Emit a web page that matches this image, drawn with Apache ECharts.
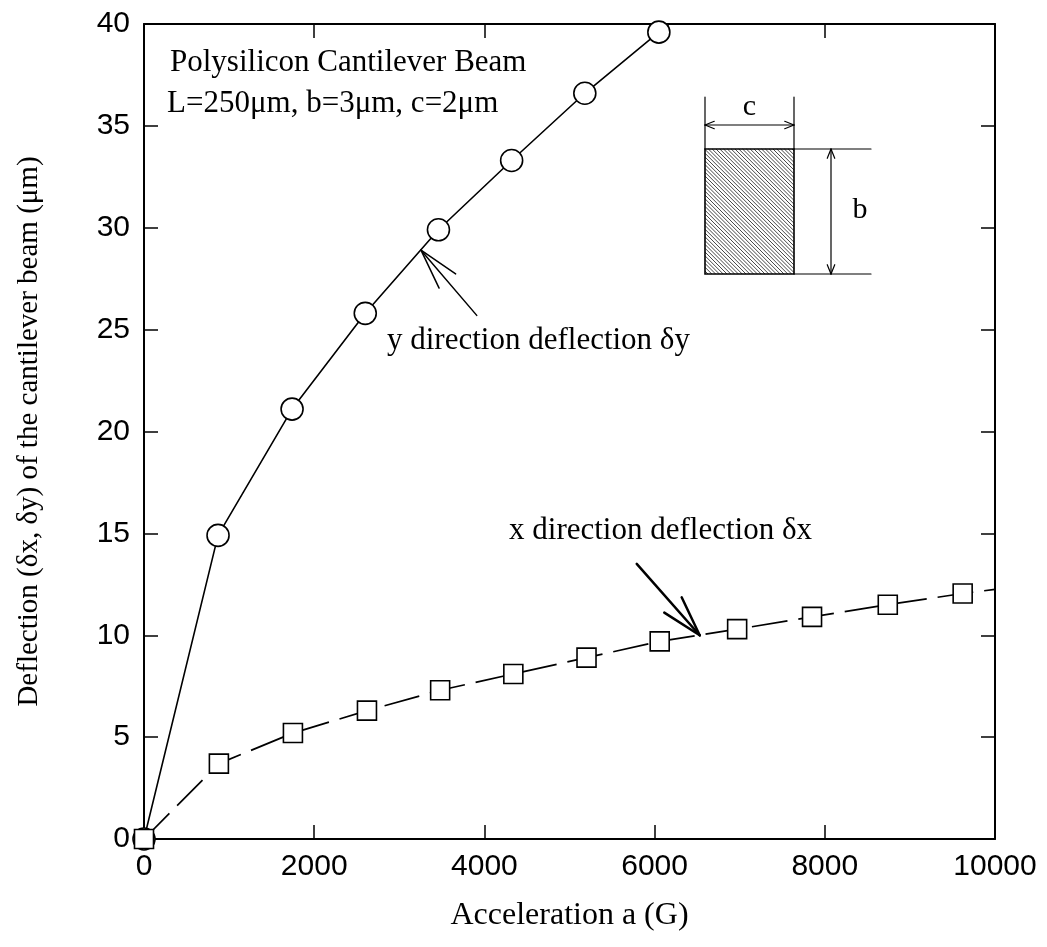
<!DOCTYPE html>
<html>
<head>
<meta charset="utf-8">
<script src="https://cdn.jsdelivr.net/npm/echarts@6/dist/echarts.min.js"></script>
<style>
  html, body { margin: 0; padding: 0; background: #fff; }
  #chart { width: 1047px; height: 947px; }
</style>
</head>
<body>
<div id="chart"></div>
<script>
// Deflection of a polysilicon cantilever beam under acceleration
// y direction (circles, solid line)
const accelY = [0, 870, 1740, 2600, 3460, 4320, 5180, 6050];
const deflY  = [0, 14.9, 21.1, 25.8, 29.9, 33.3, 36.6, 39.6];
const edgeY  = [6170, 40];          // where the curve leaves the frame

// x direction (squares, dashed line)
const accelX = [0, 880, 1750, 2620, 3480, 4340, 5200, 6060, 6970, 7850, 8740, 9620];
const deflX  = [0, 3.7, 5.2, 6.3, 7.3, 8.1, 8.9, 9.7, 10.3, 10.9, 11.5, 12.05];
const edgeX  = [10000, 12.25];

// axes
const xRange = [0, 10000], xStep = 2000;
const yRange = [0, 40], yStep = 5;

// annotation arrows, in data coordinates [tail, tip]
const arrowY = [[3910, 25.7], [3255, 28.9]];
const arrowX = [[5790, 13.5], [6530, 10.0]];

const SERIF = '"Liberation Serif", "Times New Roman", serif';
const SANS = '"Liberation Sans", Arial, sans-serif';

const chart = echarts.init(document.getElementById('chart'), null, { renderer: 'canvas' });

function toPairs(xs, ys) { return xs.map((x, i) => [x, ys[i]]); }

const frameLine = { onZero: false, lineStyle: { color: '#000', width: 2 } };
const frameTick = { inside: true, length: 14, lineStyle: { color: '#000', width: 1.5 } };
const plain = v => String(v);

const option = {
  backgroundColor: '#fff',
  animation: false,
  grid: { left: 144, top: 24, width: 851, height: 815, containLabel: false },
  xAxis: [
    {
      type: 'value', min: xRange[0], max: xRange[1], interval: xStep, position: 'bottom',
      axisLine: frameLine, axisTick: frameTick, splitLine: { show: false },
      axisLabel: { color: '#000', fontFamily: SANS, fontSize: 30, margin: 13, formatter: plain },
      name: 'Acceleration a (G)', nameLocation: 'middle', nameGap: 61,
      nameTextStyle: { color: '#000', fontFamily: SERIF, fontSize: 32 }
    },
    {
      type: 'value', min: xRange[0], max: xRange[1], interval: xStep, position: 'top',
      axisLine: frameLine, axisTick: frameTick, splitLine: { show: false },
      axisLabel: { show: false }
    }
  ],
  yAxis: [
    {
      type: 'value', min: yRange[0], max: yRange[1], interval: yStep, position: 'left',
      axisLine: frameLine, axisTick: frameTick, splitLine: { show: false },
      axisLabel: { color: '#000', fontFamily: SANS, fontSize: 30, margin: 14, formatter: plain },
      name: 'Deflection (\u03b4x, \u03b4y) of the cantilever beam (\u03bcm)',
      nameLocation: 'middle', nameGap: 100,
      nameTextStyle: { color: '#000', fontFamily: SERIF, fontSize: 29 }
    },
    {
      type: 'value', min: yRange[0], max: yRange[1], interval: yStep, position: 'right',
      axisLine: frameLine, axisTick: frameTick, splitLine: { show: false },
      axisLabel: { show: false }
    }
  ],
  series: [
    {
      name: 'y direction', type: 'line', xAxisIndex: 0, yAxisIndex: 0,
      data: toPairs(accelY, deflY).concat([{ value: edgeY, symbol: 'none' }]),
      symbol: 'circle', symbolSize: 22, showAllSymbol: true, clip: true,
      lineStyle: { color: '#000', width: 1.6 },
      itemStyle: { color: '#fff', borderColor: '#000', borderWidth: 1.6 },
      z: 3
    },
    {
      name: 'x direction', type: 'line', xAxisIndex: 0, yAxisIndex: 0,
      data: toPairs(accelX, deflX).concat([{ value: edgeX, symbol: 'none' }]),
      symbol: 'rect', symbolSize: [19, 19], showAllSymbol: true, clip: true,
      lineStyle: { color: '#000', width: 1.7, type: [36, 11] },
      itemStyle: { color: '#fff', borderColor: '#000', borderWidth: 1.6 },
      z: 4
    }
  ]
};

chart.setOption(option);

// ---- annotations drawn on top of the plot ----
function seg(x1, y1, x2, y2, w) {
  return { type: 'line', shape: { x1, y1, x2, y2 }, style: { stroke: '#000', lineWidth: w, lineCap: 'round' }, z: 20 };
}

function arrowTo(tail, tip, w, len, spread) {
  const a = Math.atan2(tail[1] - tip[1], tail[0] - tip[0]);
  const s = spread * Math.PI / 180;
  return [
    seg(tail[0], tail[1], tip[0], tip[1], w),
    seg(tip[0], tip[1], tip[0] + len * Math.cos(a + s), tip[1] + len * Math.sin(a + s), w),
    seg(tip[0], tip[1], tip[0] + len * Math.cos(a - s), tip[1] + len * Math.sin(a - s), w)
  ];
}

function label(text, x, y, size, align) {
  return {
    type: 'text', x, y, z: 20,
    style: { text, fill: '#000', font: size + 'px ' + SERIF, align: align || 'left', verticalAlign: 'middle' }
  };
}

const px = p => chart.convertToPixel({ gridIndex: 0 }, p);

const g = [];
// beam description
g.push(label('Polysilicon Cantilever Beam', 170, 63, 31));
g.push(label('L=250\u03bcm, b=3\u03bcm, c=2\u03bcm', 167, 104, 31));

// curve labels with arrows
g.push(label('y direction deflection \u03b4y', 387, 341, 31));
g.push(...arrowTo(px(arrowY[0]), px(arrowY[1]), 1.5, 42, 15));
g.push(label('x direction deflection \u03b4x', 812, 531, 31, 'right'));
g.push(...arrowTo(px(arrowX[0]), px(arrowX[1]), 2.5, 42, 16));

// cross-section sketch of the beam
const R = { x0: 705, y0: 149, x1: 794, y1: 274 };
g.push({ type: 'rect', shape: { x: R.x0, y: R.y0, width: R.x1 - R.x0, height: R.y1 - R.y0 },
         style: { fill: '#fff', stroke: 'none' }, z: 18 });
// diagonal hatching, lines y = x + k clipped to the rectangle
for (let k = R.y0 - R.x1 + 2; k < R.y1 - R.x0; k += 3.8) {
  let xa = Math.max(R.x0, R.y0 - k), xb = Math.min(R.x1, R.y1 - k);
  if (xb <= xa) continue;
  g.push({ type: 'line', shape: { x1: xa, y1: xa + k, x2: xb, y2: xb + k },
           style: { stroke: '#333', lineWidth: 0.9 }, z: 19 });
}
g.push({ type: 'rect', shape: { x: R.x0, y: R.y0, width: R.x1 - R.x0, height: R.y1 - R.y0 },
         style: { fill: 'none', stroke: '#000', lineWidth: 1.6 }, z: 20 });

// width dimension c
const cY = 125;
g.push(seg(R.x0, 97, R.x0, R.y0, 1.2));
g.push(seg(R.x1, 97, R.x1, R.y0, 1.2));
g.push(...arrowTo([R.x1, cY], [R.x0, cY], 1.2, 10, 22));
g.push(...arrowTo([R.x0, cY], [R.x1, cY], 1.2, 10, 22).slice(1));
g.push(label('c', (R.x0 + R.x1) / 2, 107, 30, 'center'));

// height dimension b
const bX = 831;
g.push(seg(R.x1, R.y0, 871, R.y0, 1.2));
g.push(seg(R.x1, R.y1, 871, R.y1, 1.2));
g.push(...arrowTo([bX, R.y1], [bX, R.y0], 1.2, 10, 22));
g.push(...arrowTo([bX, R.y0], [bX, R.y1], 1.2, 10, 22).slice(1));
g.push(label('b', 860, 210, 30, 'center'));

chart.setOption({ graphic: { elements: g } });
</script>
</body>
</html>
